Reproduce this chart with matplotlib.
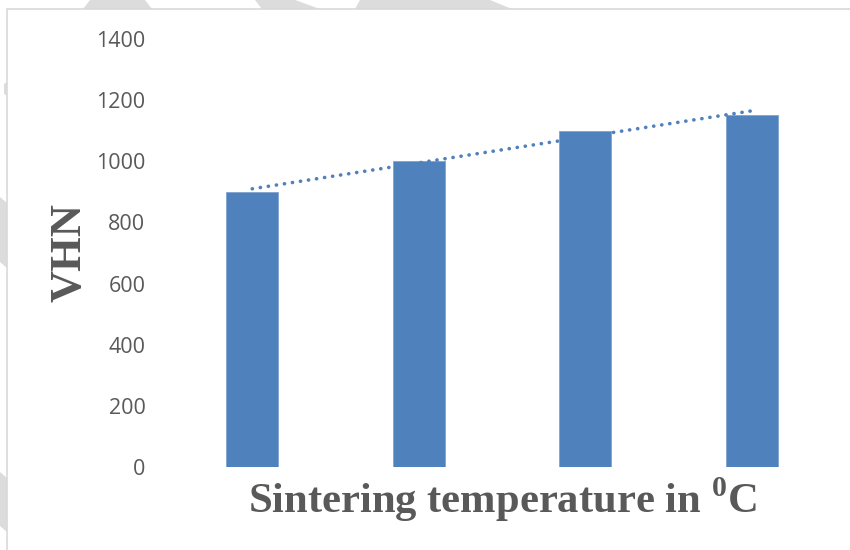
import numpy as np
import matplotlib
matplotlib.use("Agg")
import matplotlib.pyplot as plt
from matplotlib.patches import Polygon, Rectangle

# data
temps = ["T1", "T2", "T3", "T4"]          # category labels are not shown
vhn = [900, 1000, 1100, 1150]
y_ticks = [0, 200, 400, 600, 800, 1000, 1200, 1400]

bar_color = "#4F81BD"
text_gray = "#595959"

plt.rcParams["mathtext.fontset"] = "custom"
plt.rcParams["mathtext.rm"] = "Liberation Serif:bold"
plt.rcParams["mathtext.bf"] = "Liberation Serif:bold"

W, H = 850, 550
fig = plt.figure(figsize=(8.5, 5.5), dpi=100)
fig.patch.set_facecolor("white")


def px(x, y):
    # pixel coords (top-left origin) -> figure fraction
    return (x / W, 1 - y / H)


# faint watermark pieces peeking out round the chart frame
wm = "#DCDCDC"
shapes = [
    [(83, 9), (90, 0), (145, 0), (152, 9)],
    [(255, 0), (295, 0), (320, 9), (262, 9)],
    [(360, 0), (490, 0), (512, 9), (355, 9)],
    [(0, 197), (7, 203), (7, 268), (0, 262)],
    [(0, 472), (7, 478), (7, 532), (0, 526)],
    [(4, 84), (7, 82), (7, 96), (4, 94)],
]
for pts in shapes:
    fig.patches.append(Polygon([px(x, y) for x, y in pts], closed=True,
                               transform=fig.transFigure, facecolor=wm,
                               edgecolor="none", zorder=0))

# chart area frame
fig.patches.append(Rectangle(px(7, 560), (860 - 7) / W, (560 - 9) / H,
                             transform=fig.transFigure, facecolor="white",
                             edgecolor="#D9D9D9", linewidth=1.2, zorder=1))

ax = fig.add_axes([169 / W, 1 - 467 / H, (835 - 169) / W, (467 - 39) / H])
ax.set_facecolor("none")
ax.set_zorder(2)

x = np.arange(1, len(vhn) + 1)
ax.bar(x, vhn, width=0.31, color=bar_color, edgecolor="#7FA3D1",
       linewidth=0.6, zorder=2)

# linear trendline across the categories
coef = np.polyfit(x, vhn, 1)
tx = np.array([x[0], x[-1]])
ax.plot(tx, np.polyval(coef, tx), color=bar_color, linewidth=2.6,
        linestyle=(0, (0.05, 2.2)), dash_capstyle="round", zorder=3)

ax.set_xlim(0.5, len(vhn) + 0.5)
ax.set_ylim(0, 1400)
ax.set_yticks(y_ticks)
ax.set_xticks([])
ax.tick_params(axis="y", length=0, pad=17, labelsize=15.5, labelcolor=text_gray)
for lab in ax.get_yticklabels():
    lab.set_fontfamily("Open Sans")
for s in ax.spines.values():
    s.set_visible(False)

ax.set_ylabel("VHN", fontfamily="Liberation Serif", fontweight="bold",
              fontsize=32, color=text_gray, labelpad=5)
ax.set_xlabel(r"Sintering temperature in $^{0}$C", fontfamily="Liberation Serif",
              fontweight="bold", fontsize=30.7, color=text_gray, labelpad=6)

fig.savefig("out.png", dpi=100)
